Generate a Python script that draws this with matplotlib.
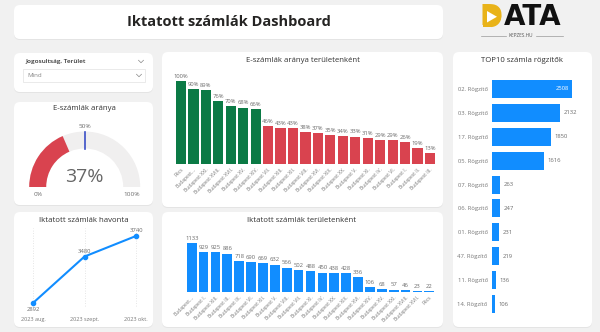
import matplotlib
matplotlib.use('Agg')
import matplotlib.pyplot as plt
from matplotlib.patches import FancyBboxPatch, Wedge, Rectangle, Polygon
import math

W, H = 600, 332
plt.rcParams['font.family'] = ['Open Sans', 'DejaVu Sans']

# ---------------- data ----------------
dashboard_title = "Iktatott számlák Dashboard"
slicer_title = "Jogosultság, Terület"
slicer_value = "Mind"

gauge_title = "E-számlák aránya"
gauge_value = 37
gauge_target = 50
gauge_min, gauge_max = 0, 100

ratio_title = "E-számlák aránya területenként"
ratio_areas = ["Pécs", "Budapest...", "Budapest XXI.", "Budapest XVIII.", "Budapest XVII.",
               "Budapest XV.", "Budapest XIV.", "Budapest VII.", "Budapest XIII.", "Budapest XII.",
               "Budapest VIII.", "Budapest XVI.", "Budapest XIX.", "Budapest XX.", "Budapest V.",
               "Budapest XI.", "Budapest IV.", "Budapest VI.", "Budapest I.", "Budapest II.",
               "Budapest III."]
ratio_values = [100, 90, 89, 76, 70, 68, 66, 46, 43, 43, 38, 37, 35, 34, 33, 31, 29, 29, 26, 19, 13]

count_title = "Iktatott számlák területenként"
count_areas = ["Budapest...", "Budapest I.", "Budapest XIII.", "Budapest III.", "Budapest IX.",
               "Budapest VI.", "Budapest XII.", "Budapest V.", "Budapest VIII.", "Budapest VII.",
               "Budapest XI.", "Budapest IV.", "Budapest XX.", "Budapest XIX.", "Budapest XVI.",
               "Budapest XIV.", "Budapest XV.", "Budapest XXI.", "Budapest XVIII.", "Budapest XVII.",
               "Pécs"]
count_values = [1133, 929, 925, 886, 718, 690, 669, 632, 566, 502, 488, 450, 438, 428, 336,
                106, 68, 57, 46, 23, 22]

top_title = "TOP10 számla rögzítők"
recorders = ["02. Rögzítő", "03. Rögzítő", "17. Rögzítő", "05. Rögzítő", "07. Rögzítő",
             "06. Rögzítő", "01. Rögzítő", "47. Rögzítő", "11. Rögzítő", "14. Rögzítő"]
recorder_values = [2508, 2132, 1850, 1616, 263, 247, 231, 219, 136, 106]

month_title = "Iktatott számlák havonta"
months = ["2023 aug.", "2023 szept.", "2023 okt."]
month_values = [2892, 3480, 3740]

# ---------------- style ----------------
BLUE = '#118DFF'
GREEN = '#0B7A45'
RED = '#D9434F'
GOLD = '#E9B319'
TXT = '#333333'
LBL = '#6b6b6b'

fig = plt.figure(figsize=(6, 3.32), dpi=100)
fig.patch.set_facecolor('#f1f1f1')
bg = fig.add_axes([0, 0, 1, 1])
bg.set_xlim(0, W)
bg.set_ylim(H, 0)
bg.axis('off')


def panel(x0, y0, x1, y1, r=6):
    sh = FancyBboxPatch((x0 + r, y0 + r + 1), (x1 - x0) - 2 * r, (y1 - y0) - 2 * r,
                        boxstyle=f"round,pad={r}", fc='#e4e4e4', ec='none', zorder=0)
    bg.add_patch(sh)
    p = FancyBboxPatch((x0 + r, y0 + r), (x1 - x0) - 2 * r, (y1 - y0) - 2 * r,
                       boxstyle=f"round,pad={r}", fc='white', ec='none', zorder=1)
    bg.add_patch(p)


def axpx(x0, y0, x1, y1):
    a = fig.add_axes([x0 / W, 1 - y1 / H, (x1 - x0) / W, (y1 - y0) / H])
    a.patch.set_alpha(0)
    return a


def chevron(x, y, s=2.5):
    bg.plot([x - s, x, x + s], [y - s * 0.5, y + s * 0.5, y - s * 0.5], color='#888888', lw=0.5, zorder=3)


# panels
panel(14, 5, 443, 39)
panel(14, 53, 153, 92)
panel(14, 102, 153, 205)
panel(14, 212, 153, 327)
panel(162, 52, 443, 207)
panel(162, 212, 443, 327)
panel(453, 52, 592, 327)

# title
bg.text(229, 22, dashboard_title, ha='center', va='center', fontsize=10.5, fontweight='bold',
        color='#252423', zorder=3)

# logo: gold "D" (filled, with play triangle) then black "ATA"
renderer = fig.canvas.get_renderer()
bg.add_patch(Rectangle((482.5, 6.5), 9, 20.5, fc=GOLD, ec='none', zorder=3))
bg.add_patch(Wedge((491, 16.75), 10.3, -90, 90, fc=GOLD, ec='none', zorder=3))
d_txt = bg.text(480, 17, "D", ha='left', va='center', fontsize=20, fontweight='bold',
                family='DejaVu Sans', color=GOLD, zorder=4)
d_ext = d_txt.get_window_extent(renderer=renderer)
d_right = d_ext.x1 * W / fig.bbox.width
bg.text(d_right + 0.5, 17, "ATA", ha='left', va='center', fontsize=20, fontweight='bold',
        family='DejaVu Sans', color='#111111', zorder=3)
bg.add_patch(Polygon([[487, 11], [487, 22.5], [497, 16.75]], closed=True, fc='white', ec='none', zorder=5))
bg.text(521, 35.5, "KEPZES.HU", ha='center', va='center', fontsize=3.4, color='#555555', zorder=3)
bg.plot([481, 506], [35.5, 35.5], color='#999999', lw=0.5, zorder=3)
bg.plot([536, 563], [35.5, 35.5], color='#999999', lw=0.5, zorder=3)

# slicer
bg.text(25, 62, slicer_title, ha='left', va='center', fontsize=4.6, fontweight='semibold',
        color=TXT, zorder=3)
chevron(141, 61.5)
bg.add_patch(Rectangle((23, 69), 122, 13, fc='white', ec='#e2e2e2', lw=0.5, zorder=3))
bg.text(27, 75.5, slicer_value, ha='left', va='center', fontsize=4.4, color='#888888', zorder=4)
chevron(139, 75.5)

# ---------------- gauge ----------------
bg.text(84, 109, gauge_title, ha='center', va='center', fontsize=5.6, color=TXT, zorder=3)
ga = axpx(14, 112, 153, 200)
ga.set_xlim(14, 153)
ga.set_ylim(H - 200, H - 112)
ga.axis('off')
cx, cy = 84.7, H - 187
r_out, r_in = 55.5, 38.5
span = gauge_max - gauge_min
ga.add_patch(Wedge((cx, cy), r_out, 0, 180, width=r_out - r_in, fc='#F0EFEF', ec='none'))
ang_v = 180 - 180 * (gauge_value - gauge_min) / span
ga.add_patch(Wedge((cx, cy), r_out, ang_v, 180, width=r_out - r_in, fc=RED, ec='none'))
ang_t = math.radians(180 - 180 * (gauge_target - gauge_min) / span)
ga.plot([cx + r_in * math.cos(ang_t), cx + r_out * math.cos(ang_t)],
        [cy + r_in * math.sin(ang_t), cy + r_out * math.sin(ang_t)], color='#3A4FC7', lw=1.2)
ga.text(cx + (r_out + 5) * math.cos(ang_t), cy + (r_out + 5) * math.sin(ang_t), f"{gauge_target}%",
        ha='center', va='center', fontsize=4.6, color=LBL)
ga.text(cx, cy + 10, f"{gauge_value}%", ha='center', va='center', fontsize=14, color='#666666')
r_mid = (r_out + r_in) / 2
ga.text(cx - r_mid, cy - 7, f"{gauge_min}%", ha='center', va='center', fontsize=4.6, color=LBL)
ga.text(cx + r_mid, cy - 7, f"{gauge_max}%", ha='center', va='center', fontsize=4.6, color=LBL)

# ---------------- ratio bars ----------------
bg.text(303, 61, ratio_title, ha='center', va='center', fontsize=5.6, color=TXT, zorder=3)
ra = axpx(174.75, 81, 436.2, 164)
ra.set_xlim(-0.5, len(ratio_values) - 0.5)
ra.set_ylim(0, 100)
ra_colors = [GREEN if v >= gauge_target else RED for v in ratio_values]
ra.bar(range(len(ratio_values)), ratio_values, width=0.82, color=ra_colors)
for i, v in enumerate(ratio_values):
    ra.annotate(f"{v}%", (i, v), xytext=(0, 1.6), textcoords='offset points', ha='center',
                va='bottom', fontsize=4.2, color=LBL)
ra.set_xticks(range(len(ratio_areas)))
ra.set_xticklabels(ratio_areas, rotation=45, ha='right', rotation_mode='anchor',
                   fontsize=3.6, color='#7a7a7a')
ra.tick_params(axis='x', length=0, pad=2)
ra.set_yticks([])
for s in ra.spines.values():
    s.set_visible(False)

# ---------------- count bars ----------------
bg.text(302, 220, count_title, ha='center', va='center', fontsize=5.6, color=TXT, zorder=3)
ca = axpx(185.8, 243, 435.2, 292)
ca.set_xlim(-0.5, len(count_values) - 0.5)
ca.set_ylim(0, max(count_values))
ca.bar(range(len(count_values)), count_values, width=0.82, color=BLUE)
for i, v in enumerate(count_values):
    ca.annotate(f"{v}", (i, v), xytext=(0, 1.6), textcoords='offset points', ha='center',
                va='bottom', fontsize=4.2, color=LBL)
ca.set_xticks(range(len(count_areas)))
ca.set_xticklabels(count_areas, rotation=45, ha='right', rotation_mode='anchor',
                   fontsize=3.6, color='#7a7a7a')
ca.tick_params(axis='x', length=0, pad=2)
ca.set_yticks([])
for s in ca.spines.values():
    s.set_visible(False)

# ---------------- top10 ----------------
bg.text(522, 61, top_title, ha='center', va='center', fontsize=5.6, color=TXT, zorder=3)
ta = axpx(492, 77, 572, 316)
ta.set_ylim(len(recorders) - 0.5, -0.5)
ta.set_xlim(0, max(recorder_values))
ta.barh(range(len(recorder_values)), recorder_values, height=0.75, color=BLUE)
vmax = max(recorder_values)
for i, v in enumerate(recorder_values):
    if v == vmax:
        ta.annotate(f"{v}", (v, i), xytext=(-2.5, 0), textcoords='offset points', ha='right',
                    va='center', fontsize=4.2, color='white')
    else:
        ta.annotate(f"{v}", (v, i), xytext=(2.5, 0), textcoords='offset points', ha='left',
                    va='center', fontsize=4.2, color=LBL)
ta.set_yticks(range(len(recorders)))
ta.set_yticklabels(recorders, fontsize=4.2, color='#777777')
ta.tick_params(axis='y', length=0, pad=3)
ta.set_xticks([])
for s in ta.spines.values():
    s.set_visible(False)

# ---------------- monthly line ----------------
bg.text(84, 220, month_title, ha='center', va='center', fontsize=5.6, color=TXT, zorder=3)
la = axpx(33, 236, 136, 303)
la.set_xlim(0, len(months) - 1)
la.set_ylim(min(month_values), max(month_values))
for i in range(len(months)):
    la.axvline(i, ymin=-0.05, ymax=1.12, color='#dddddd', lw=0.6, ls=(0, (1, 2)), clip_on=False, zorder=1)
la.plot(range(len(months)), month_values, color=BLUE, lw=1.5, marker='o', markersize=3,
        clip_on=False, zorder=3)
for i, v in enumerate(month_values):
    if i == 0:
        la.annotate(f"{v}", (i, v), xytext=(0, -3), textcoords='offset points', ha='center',
                    va='top', fontsize=4.2, color=LBL)
    else:
        la.annotate(f"{v}", (i, v), xytext=(0, 2), textcoords='offset points', ha='center',
                    va='bottom', fontsize=4.2, color=LBL)
la.set_xticks(range(len(months)))
la.set_xticklabels(months, fontsize=4, color='#777777')
la.tick_params(axis='x', length=0, pad=10)
la.set_yticks([])
for s in la.spines.values():
    s.set_visible(False)

fig.savefig('out.png', dpi=100, facecolor=fig.get_facecolor())
